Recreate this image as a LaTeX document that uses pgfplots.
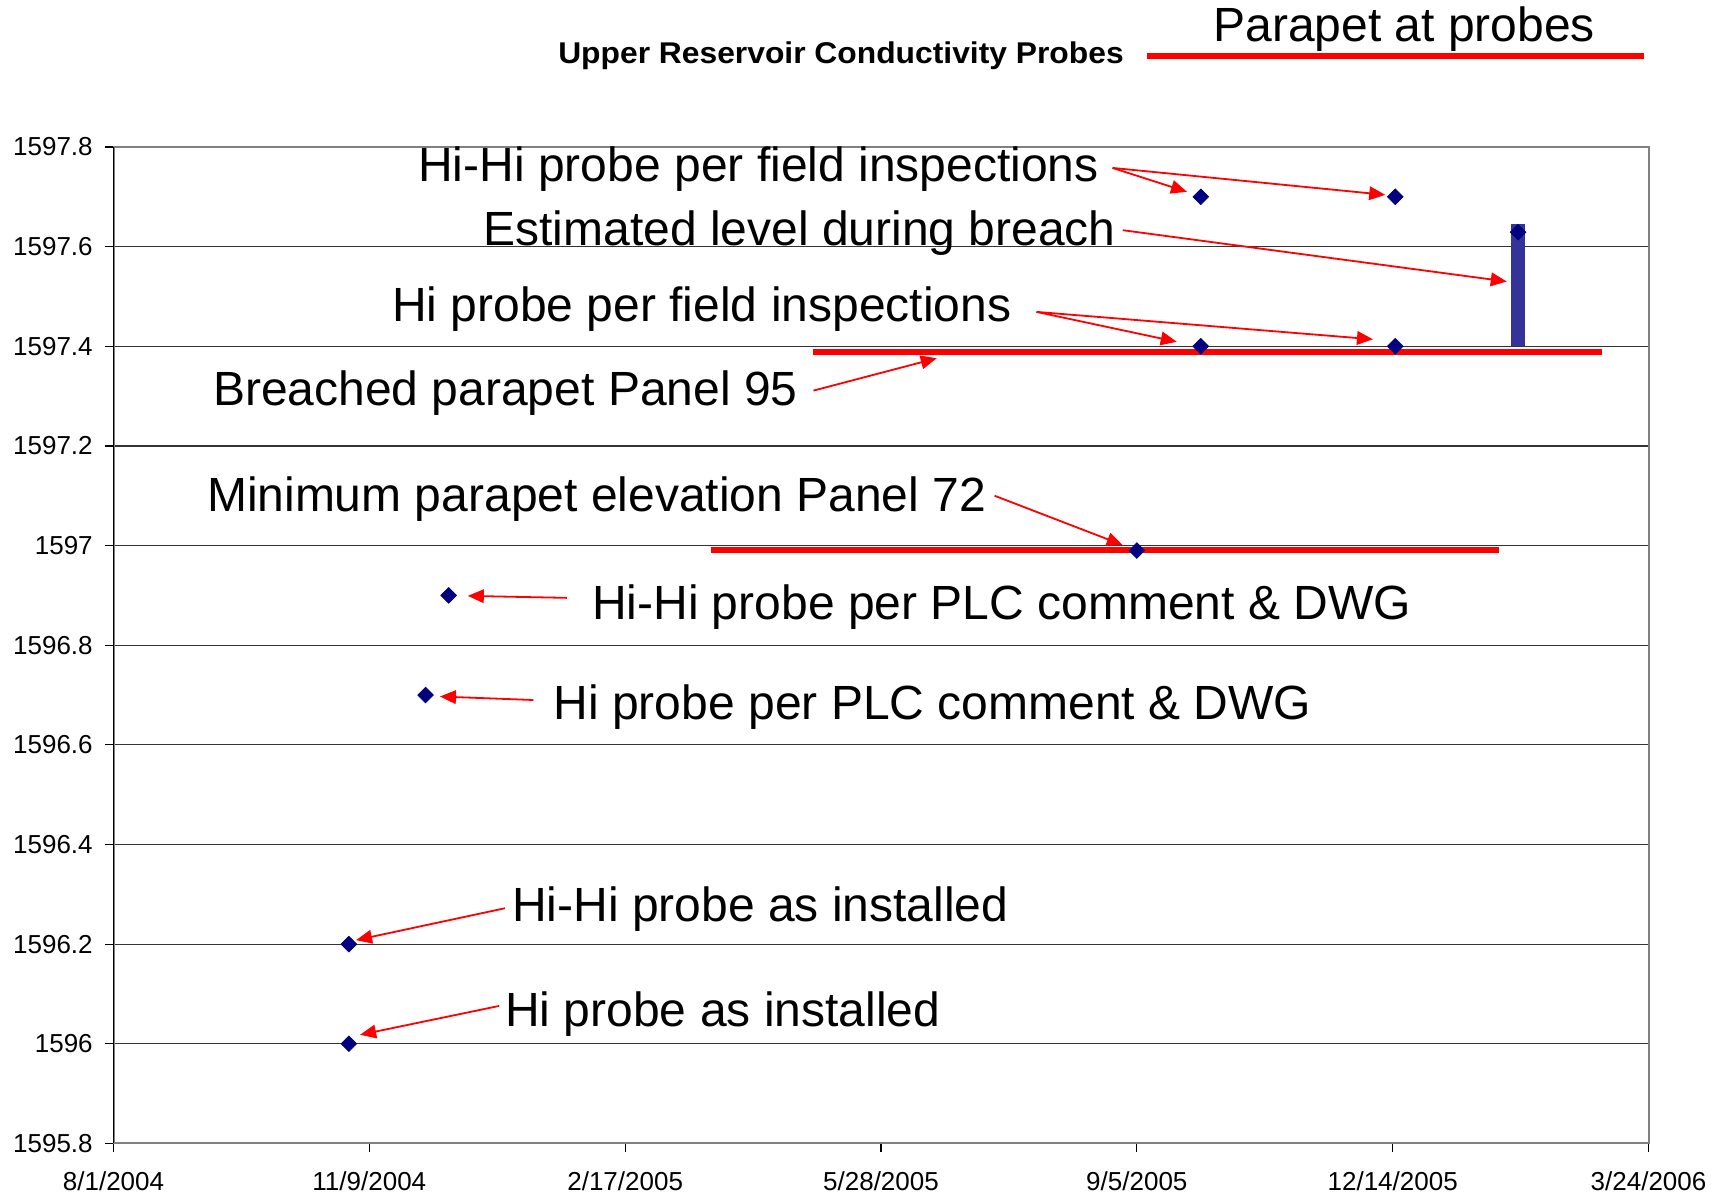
\documentclass[border=0pt]{standalone}
\usepackage{fontspec}
\setmainfont{Liberation Sans}
\usepackage{pgfplots}
\pgfplotsset{compat=1.18}
\usetikzlibrary{arrows.meta}
\definecolor{navy}{HTML}{000080}
\definecolor{barblue}{HTML}{333399}

% x = days after 8/1/2004
\begin{document}
\begin{tikzpicture}[
  note/.style={anchor=base west, inner sep=0pt, font=\fontsize{24}{28}\selectfont},
  pointer/.style={red, line width=0.9pt, -{Triangle[length=8pt,width=6.8pt]}}
]
\begin{axis}[
  set layers,
  scale only axis, width=767.5pt, height=498.2pt,
  xmin=0, xmax=600, ymin=1595.8, ymax=1597.8,
  xtick={0,100,...,600},
  xticklabels={8/1/2004,11/9/2004,2/17/2005,5/28/2005,9/5/2005,12/14/2005,3/24/2006},
  ytick={1595.8,1596,1596.2,1596.4,1596.6,1596.8,1597,1597.2,1597.4,1597.6,1597.8},
  /pgf/number format/.cd, fixed, precision=1, 1000 sep={}, assume math mode=true,
  /pgfplots/.cd,
  tick label style={font=\fontsize{13}{15}\selectfont, inner sep=0pt},
  yticklabel style={anchor=east, xshift=-6pt},
  xticklabel style={anchor=north, yshift=-9.7pt},
  tick align=outside, tick pos=left, major tick length=4.2pt,
  tick style={black, line width=0.6pt},
  ymajorgrids, grid style={black!80, line width=0.6pt},
  axis line style={draw=gray, line width=1pt},
  clip=false,
]
% parapet at probes
\addplot[red, line width=3pt, unbounded coords=jump] table {
x y
273.6 1597.388
581.8 1597.388
nan nan
233.4 1596.992
541.4 1596.992
};
% probe elevations
\addplot[only marks, mark=square*, mark size=2.75pt,
  mark options={rotate=45, draw=navy, fill=navy}] table {
x y
92 1596.0
92 1596.2
122 1596.7
131 1596.9
400 1596.99
425 1597.7
501 1597.7
425 1597.4
501 1597.4
};
% estimated level during breach (marker sits under the bar)
\addplot[only marks, mark=square*, mark size=2.75pt, mark layer=axis background,
  mark options={rotate=45, draw=navy, fill=navy}] table {
x y
549 1597.629
};
\addplot[barblue, line width=6.6pt] table {
x y
549 1597.401
549 1597.645
};

\node[note] at (axis cs:119.0,1597.730) {Hi-Hi probe per field inspections};
\node[note] at (axis cs:144.4,1597.603) {Estimated level during breach};
\node[note] at (axis cs:108.8,1597.449) {Hi probe per field inspections};
\node[note] at (axis cs:38.8,1597.282) {Breached parapet Panel 95};
\node[note] at (axis cs:36.4,1597.068) {Minimum parapet elevation Panel 72};
\node[note] at (axis cs:186.9,1596.852) {Hi-Hi probe per PLC comment \& DWG};
\node[note] at (axis cs:171.9,1596.650) {Hi probe per PLC comment \& DWG};
\node[note] at (axis cs:155.7,1596.245) {Hi-Hi probe as installed};
\node[note] at (axis cs:153.0,1596.034) {Hi probe as installed};

\draw[pointer] (axis cs:390.5,1597.758) -- (axis cs:419.6,1597.710);
\draw[pointer] (axis cs:390.5,1597.758) -- (axis cs:497.1,1597.704);
\draw[pointer] (axis cs:394.5,1597.633) -- (axis cs:544.6,1597.530);
\draw[pointer] (axis cs:360.8,1597.469) -- (axis cs:415.6,1597.409);
\draw[pointer] (axis cs:360.8,1597.469) -- (axis cs:492.3,1597.414);
\draw[pointer] (axis cs:273.6,1597.311) -- (axis cs:321.8,1597.376);
\draw[pointer] (axis cs:344.4,1597.100) -- (axis cs:394.5,1597.001);
\draw[pointer] (axis cs:177.2,1596.895) -- (axis cs:138.5,1596.899);
\draw[pointer] (axis cs:164.1,1596.690) -- (axis cs:127.6,1596.697);
\draw[pointer] (axis cs:153.0,1596.272) -- (axis cs:94.8,1596.208);
\draw[pointer] (axis cs:150.8,1596.076) -- (axis cs:96.4,1596.018);
\end{axis}

\draw[black, line width=0.7pt] (current axis.south west) -- (current axis.north west);
% title and legend
\node[anchor=base, inner sep=0pt, xscale=1.06,
  font=\fontsize{15}{18}\selectfont\bfseries]
  at ([shift={(363.75pt,41.85pt)}]current axis.north west)
  {Upper Reservoir Conductivity Probes};
\draw[red, line width=3pt] ([shift={(516.6pt,45.65pt)}]current axis.north west)
  -- ([shift={(765.4pt,45.65pt)}]current axis.north west);
\node[anchor=base west, inner sep=0pt, font=\fontsize{24}{28}\selectfont]
  at ([shift={(549.75pt,52.65pt)}]current axis.north west) {Parapet at probes};
% page size
\path ([shift={(-56.75pt,-26.35pt)}]current axis.south west);
\path ([shift={(40.25pt,73.5pt)}]current axis.north east);
\end{tikzpicture}
\end{document}
